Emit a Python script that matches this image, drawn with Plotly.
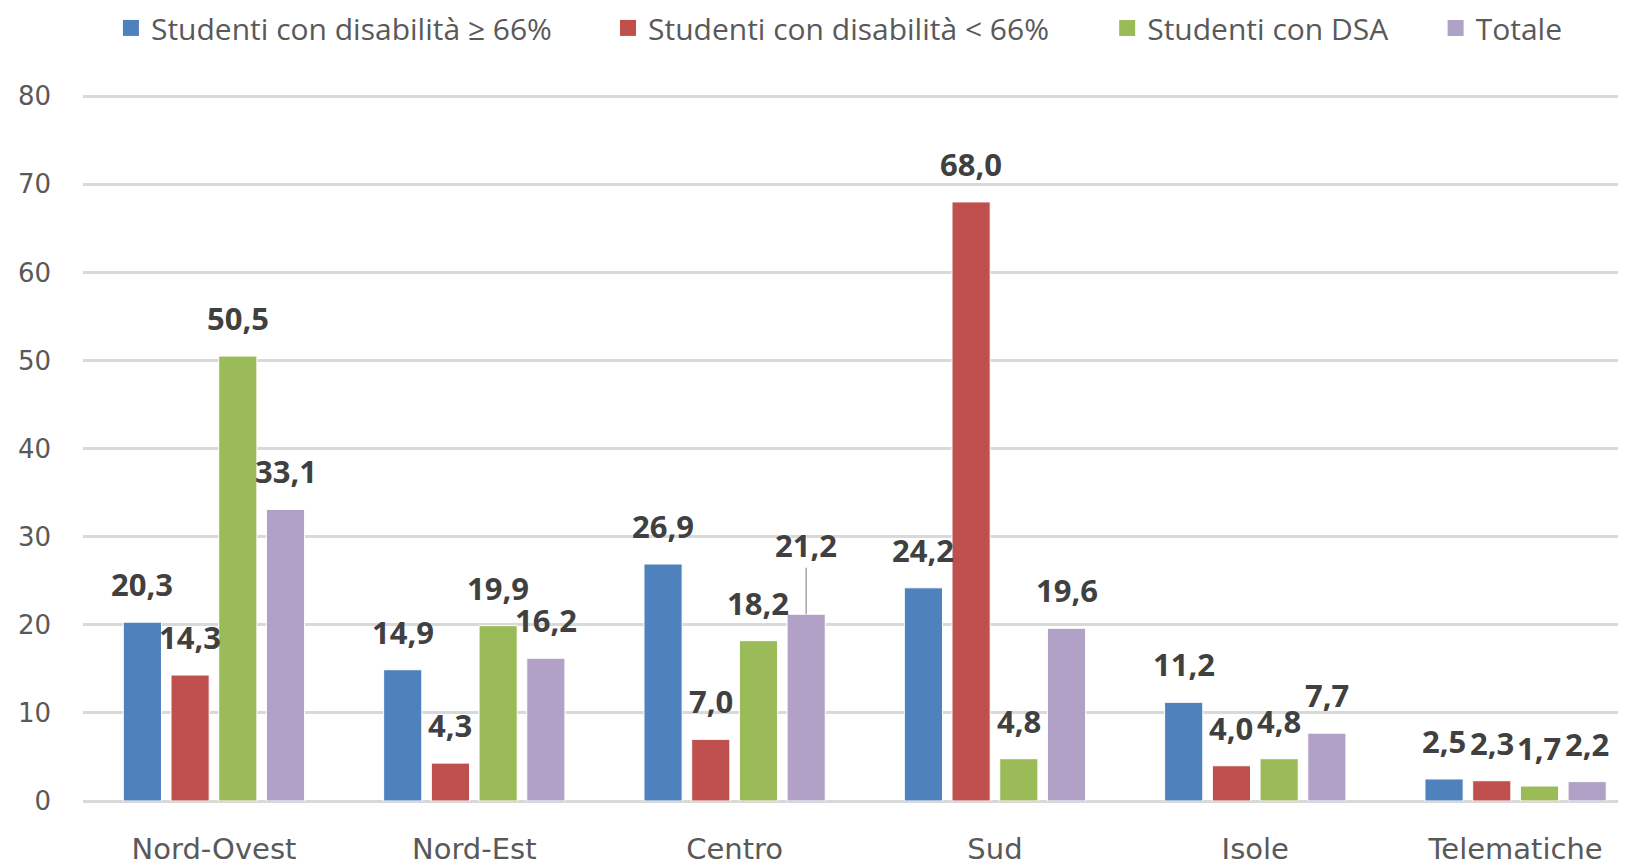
"""Studenti con disabilità e DSA per ripartizione territoriale (valori %)."""
import plotly.graph_objects as go

# ─── Dati ────────────────────────────────────────────────────────────────
categorie = ["Nord-Ovest", "Nord-Est", "Centro", "Sud", "Isole", "Telematiche"]

disab_66_plus = [20.3, 14.9, 26.9, 24.2, 11.2, 2.5]
disab_66_minus = [14.3, 4.3, 7.0, 68.0, 4.0, 2.3]
dsa = [50.5, 19.9, 18.2, 4.8, 4.8, 1.7]
totale = [33.1, 16.2, 21.2, 19.6, 7.7, 2.2]

nomi_serie = [
    "Studenti con disabilità ≥ 66%",
    "Studenti con disabilità < 66%",
    "Studenti con DSA",
    "Totale",
]
y_ticks = [0, 10, 20, 30, 40, 50, 60, 70, 80]

# ─── Stile ───────────────────────────────────────────────────────────────
COLORI = ["#4F81BD", "#C0504D", "#9BBB59", "#B2A1C7"]
TESTO_LABEL = "#404040"
TESTO_ASSI = "#595959"
GRIGLIA = "#D9D9D9"
BARGAP = 0.267
LABEL_SHIFT = 38
# etichette spostate a mano (con linea guida), come nell'originale
LEADER = {(3, 2): 69}
# una legenda per voce, così la spaziatura segue quella dell'originale
LEGENDA_X = [0.0633, 0.369, 0.676, 0.878]

serie = [disab_66_plus, disab_66_minus, dsa, totale]
legende = ["legend"] + [f"legend{k}" for k in range(2, len(serie) + 1)]

fig = go.Figure()
for nome, vals, col, leg in zip(nomi_serie, serie, COLORI, legende):
    fig.add_trace(
        go.Bar(
            name=nome,
            x=list(range(len(categorie))),
            y=vals,
            marker=dict(color=col, line=dict(color="white", width=1)),
            showlegend=False,
            hoverinfo="skip",
        )
    )
    # voce di legenda con quadratino più grande
    fig.add_trace(
        go.Scatter(
            name=nome,
            x=[None],
            y=[None],
            mode="markers",
            marker=dict(symbol="square", size=18, color=col),
            legend=leg,
            hoverinfo="skip",
        )
    )

# etichette dati
slot = (1 - BARGAP) / len(serie)
annotazioni = []
for i, vals in enumerate(serie):
    for j, v in enumerate(vals):
        xpos = j + (i - (len(serie) - 1) / 2) * slot
        testo = f"{v:.1f}".replace(".", ",")
        font = dict(family="Open Sans", size=31, color=TESTO_LABEL)
        if (i, j) in LEADER:
            annotazioni.append(
                dict(
                    x=xpos, y=v, text=f"<b>{testo}</b>", font=font,
                    showarrow=True, arrowhead=0, arrowwidth=1.5,
                    arrowcolor="#A6A6A6", ax=0, ay=-LEADER[(i, j)],
                    standoff=0,
                )
            )
        else:
            annotazioni.append(
                dict(
                    x=xpos, y=v, text=f"<b>{testo}</b>", font=font,
                    showarrow=False, yshift=LABEL_SHIFT, yanchor="middle",
                )
            )

legend_layout = {
    leg: dict(
        orientation="h",
        x=lx,
        xref="container",
        xanchor="left",
        y=0.977,
        yref="container",
        yanchor="middle",
        itemsizing="trace",
        font=dict(family="Open Sans", size=30, color=TESTO_ASSI),
        bgcolor="rgba(0,0,0,0)",
    )
    for leg, lx in zip(legende, LEGENDA_X)
}

fig.update_layout(
    width=1626,
    height=866,
    paper_bgcolor="white",
    plot_bgcolor="white",
    barmode="group",
    bargap=BARGAP,
    bargroupgap=0.2,
    margin=dict(l=75, r=8, t=86, b=71),
    annotations=annotazioni,
    xaxis=dict(
        range=[-0.503, 5.424],
        tickvals=list(range(len(categorie))),
        ticktext=categorie,
        tickfont=dict(family="DejaVu Sans", size=29, color=TESTO_ASSI),
        ticklabelstandoff=28,
        showgrid=False,
        zeroline=False,
        showline=False,
        ticks="",
    ),
    yaxis=dict(
        range=[0, 80.25],
        tickvals=y_ticks,
        tickfont=dict(family="DejaVu Sans", size=26, color=TESTO_ASSI),
        ticklabelstandoff=31,
        showgrid=True,
        gridcolor=GRIGLIA,
        gridwidth=3,
        zeroline=True,
        zerolinecolor=GRIGLIA,
        zerolinewidth=3,
        showline=False,
        ticks="",
    ),
    **legend_layout,
)

fig.write_html("out.html")
